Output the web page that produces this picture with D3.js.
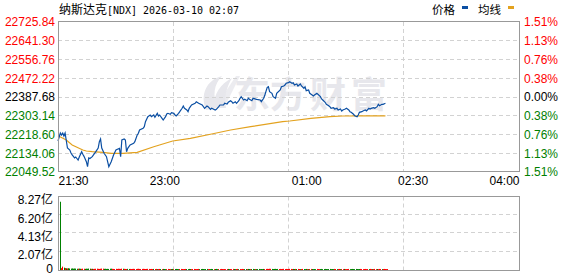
<!DOCTYPE html>
<html><head><meta charset="utf-8">
<script src="https://cdn.jsdelivr.net/npm/d3@7"></script>
<style>body{margin:0;background:#fff}svg{display:block}</style>
</head><body><svg id="c" width="578" height="276"></svg>
<script>
// ---------- data ----------
const titleName = "纳斯达克";
const titleCode = "[NDX] 2026-03-10 02:07";
const prevClose = 22387.68;
const priceTicks = [22049.52,22134.06,22218.60,22303.14,22387.68,22472.22,22556.76,22641.30,22725.84];
const pctLabels  = ["1.51%","1.13%","0.76%","0.38%","0.00%","0.38%","0.76%","1.13%","1.51%"];
const timeTicks  = [0,90,210,300,390];           // minutes after 21:30
const timeLabels = ["21:30","23:00","01:00","02:30","04:00"];
const volTicks   = [0,2.07,4.13,6.20,8.27];
const volLabels  = ["0","2.07亿","4.13亿","6.20亿","8.27亿"];
const legendNames = ["价格","均线"];

// [minute, price]
const pricePoints = [
[0,22189.3],[2,22225.4],[3,22216.4],[4,22225.4],[5,22211.8],[6,22225.4],[8,22157.7],[10,22148.7],
[11,22135.2],[12,22126.2],[14,22112.7],[15,22117.2],[17,22103.6],[18,22117.2],[20,22141.1],[21,22129.3],
[22,22120.0],[24,22096.0],[25,22073.4],[26,22112.7],[27,22110.0],[29,22118.5],[32,22141.1],[34,22157.7],
[35,22186.1],[36,22198.3],[37,22157.7],[39,22133.8],[41,22118.5],[43,22073.4],[45,22096.0],[47,22126.2],
[49,22148.7],[52,22156.4],[53,22118.5],[54,22193.8],[56,22198.3],[57,22193.8],[58,22141.1],[59,22156.4],
[61,22171.3],[64,22178.9],[65,22186.1],[67,22216.4],[68,22224.0],[69,22238.9],[72,22246.6],[73,22253.8],
[74,22276.3],[76,22298.9],[78,22306.5],[79,22298.9],[81,22306.5],[82,22296.2],[84,22314.2],[85,22302.0],
[86,22306.5],[88,22291.7],[89,22284.0],[91,22298.9],[92,22311.0],[93,22314.2],[95,22309.7],[96,22316.9],
[98,22314.2],[99,22306.5],[100,22302.0],[102,22314.2],[103,22321.4],[105,22336.7],[106,22347.1],[107,22336.7],
[109,22329.1],[110,22321.4],[111,22336.7],[113,22351.6],[116,22359.3],[117,22366.5],[119,22359.3],[122,22351.6],
[124,22336.7],[126,22347.1],[127,22344.0],[129,22332.2],[130,22336.7],[133,22329.1],[134,22332.2],[136,22344.0],
[137,22351.6],[140,22351.6],[141,22359.3],[143,22356.1],[144,22363.8],[146,22371.0],[147,22366.5],[148,22359.3],
[150,22366.5],[151,22359.3],[153,22371.0],[154,22381.8],[155,22389.1],[157,22374.2],[158,22377.3],[160,22371.0],
[161,22381.8],[162,22377.3],[164,22371.0],[165,22381.8],[168,22377.3],[171,22374.2],[172,22366.5],[174,22381.8],
[175,22396.7],[177,22431.4],[178,22434.1],[179,22411.6],[181,22404.4],[182,22389.1],[184,22381.8],[185,22404.4],
[188,22419.3],[189,22434.1],[191,22437.3],[192,22441.8],[193,22449.5],[195,22452.2],[196,22456.7],[198,22449.5],
[199,22452.2],[200,22441.8],[202,22446.3],[203,22437.3],[205,22446.3],[206,22437.3],[208,22426.9],[209,22434.1],
[210,22416.1],[212,22419.3],[213,22404.4],[215,22396.7],[216,22392.2],[217,22396.7],[219,22404.4],[222,22389.1],
[223,22378.7],[224,22374.2],[226,22363.8],[227,22354.8],[229,22348.5],[230,22344.0],[231,22336.7],[233,22339.5],
[234,22333.6],[236,22336.7],[237,22329.1],[239,22333.6],[240,22324.6],[241,22329.1],[243,22333.6],[244,22336.7],
[246,22329.1],[247,22321.4],[248,22318.7],[250,22309.7],[251,22303.4],[253,22298.9],[254,22306.5],[255,22318.7],
[257,22321.4],[258,22324.6],[260,22329.1],[261,22324.6],[263,22336.7],[264,22333.6],[265,22336.7],[267,22339.5],
[268,22336.7],[270,22344.0],[271,22354.8],[272,22348.5],[274,22354.8],[275,22354.8],[277,22359.3]
];

// [minute, average price]
const avgPoints = [
[0,22213.2],[7,22193.8],[12,22171.3],[21,22148.7],[24,22144.2],[29,22141.1],[38,22138.4],[45,22133.8],
[55,22133.8],[67,22138.4],[81,22163.6],[97,22189.3],[112,22201.5],[130,22220.9],[146,22238.9],[163,22253.8],
[190,22276.3],[196,22279.5],[214,22291.7],[230,22298.9],[241,22302.0],[260,22302.5],[277,22302.9]
];

// volume per minute (亿)
const volumes = [
7.68,0.21,0.38,0.26,0.22,0.19,0.18,0.2,0.17,0.16,0.18,0.15,0.17,0.16,0.14,0.15,0.16,0.14,0.13,0.15,
0.14,0.13,0.15,0.14,0.16,0.15,0.13,0.14,0.12,0.13,0.14,0.15,0.13,0.12,0.14,0.16,0.15,0.13,0.14,0.12,
0.13,0.12,0.14,0.15,0.13,0.12,0.11,0.13,0.12,0.14,0.13,0.12,0.15,0.14,0.13,0.12,0.11,0.13,0.12,0.12,
0.11,0.12,0.13,0.12,0.11,0.13,0.14,0.12,0.11,0.12,0.13,0.12,0.11,0.12,0.13,0.12,0.11,0.12,0.11,0.12,
0.11,0.12,0.1,0.11,0.12,0.11,0.1,0.12,0.11,0.1,0.11,0.12,0.11,0.1,0.11,0.12,0.1,0.11,0.12,0.11,
0.1,0.11,0.12,0.11,0.1,0.11,0.12,0.11,0.1,0.12,0.11,0.1,0.11,0.12,0.11,0.1,0.11,0.12,0.1,0.11,
0.12,0.11,0.1,0.11,0.12,0.1,0.11,0.1,0.12,0.11,0.1,0.11,0.12,0.1,0.11,0.1,0.12,0.11,0.1,0.11,
0.1,0.11,0.12,0.1,0.11,0.1,0.12,0.11,0.1,0.11,0.12,0.1,0.11,0.1,0.12,0.11,0.1,0.11,0.1,0.12,
0.11,0.1,0.11,0.12,0.1,0.11,0.1,0.11,0.12,0.1,0.11,0.1,0.12,0.11,0.12,0.13,0.12,0.14,0.13,0.12,
0.11,0.12,0.13,0.11,0.12,0.11,0.12,0.11,0.12,0.13,0.11,0.12,0.11,0.12,0.13,0.12,0.11,0.12,0.11,0.12,
0.11,0.12,0.11,0.1,0.11,0.12,0.11,0.1,0.12,0.11,0.1,0.11,0.12,0.11,0.1,0.11,0.1,0.12,0.11,0.1,
0.11,0.12,0.1,0.11,0.12,0.11,0.1,0.11,0.12,0.1,0.11,0.1,0.12,0.11,0.1,0.11,0.12,0.1,0.11,0.1,
0.12,0.11,0.1,0.11,0.12,0.1,0.11,0.12,0.11,0.1,0.12,0.11,0.1,0.11,0.12,0.11,0.1,0.11,0.12,0.1,
0.11,0.1,0.12,0.11,0.1,0.11,0.12,0.1,0.11,0.1,0.12,0.11,0.1,0.11,0.12,0.11,0.1,0.11
];

// ---------- drawing ----------
const RED="#ff0000", GREEN="#008000", BLUE="#0b4fa3", ORANGE="#e3a21f";
const NUMFONT = "'Liberation Sans', Arial, 'Noto Sans CJK SC', sans-serif";
const CJKFONT = "'Noto Sans CJK SC', sans-serif";
const svg = d3.select("#c");
const M = {l:58, r:519, t:22, b:172};
const V = {l:58, r:519, t:196.5, b:270};
const x  = d3.scaleLinear().domain([0,390]).range([M.l, M.r]);
const y  = d3.scaleLinear().domain([priceTicks[0], priceTicks[priceTicks.length-1]]).range([M.b, M.t]);
const yv = d3.scaleLinear().domain([0, volTicks[volTicks.length-1]]).range([V.b, V.t]);
const px = v => Math.floor(v) + 0.5;
const gridX = [97.5,195,292.5];

// watermark
const wm = svg.append("g").attr("fill","#e7e7ec");
wm.append("path").attr("d","M206,110 C200,95 206,80 222,76 C214,84 212,96 218,108 Z");
wm.append("path").attr("d","M213,108 C214,94 220,84 232,78 C226,88 224,98 226,108 Z");
wm.append("path").attr("d","M220,100 L236,76 L240,76 L226,104 Z").attr("opacity",0.8);
["东","方","财","富"].forEach((c,i)=>{
  wm.append("text").attr("x",[234,270,310,351][i]).attr("y",108)
    .attr("font-family",CJKFONT).attr("font-weight","bold").attr("font-size",36).text(c);
});

// grid
function grid(box, ys){
  const g = svg.append("g").attr("stroke","#d2d2d2").attr("stroke-width",1).attr("stroke-dasharray","4,3").attr("fill","none");
  ys.forEach(v=> g.append("line").attr("x1",box.l).attr("x2",box.r).attr("y1",v).attr("y2",v));
  gridX.forEach(m=>{ const xx=px(x(m)); g.append("line").attr("x1",xx).attr("x2",xx).attr("y1",box.t).attr("y2",box.b); });
}
grid(M, priceTicks.slice(1,-1).map(v=>px(y(v))));
grid({l:V.l,r:V.r,t:196.5,b:270}, volTicks.slice(1,-1).map(v=>Math.round(yv(v))-0.5));

// volume bars
const pAt = d3.scaleLinear().domain(pricePoints.map(d=>d[0])).range(pricePoints.map(d=>d[1])).clamp(true);
svg.append("g").selectAll("rect").data(volumes).join("rect")
  .attr("x",(d,i)=>Math.round(x(i))+2).attr("width",1)
  .attr("y",d=>yv(d)).attr("height",d=>V.b-yv(d))
  .attr("fill",(d,i)=>{ const prev = i===0?prevClose:pAt(i-1); return pAt(i)>=prev?RED:GREEN; });

// lines
const line = d3.line().x(d=>x(d[0])).y(d=>y(d[1]));
svg.append("path").datum(avgPoints).attr("d",line).attr("fill","none").attr("stroke",ORANGE).attr("stroke-width",1.2);
svg.append("path").datum(pricePoints).attr("d",line).attr("fill","none").attr("stroke",BLUE).attr("stroke-width",1.2);

// frames
svg.append("rect").attr("x",58.5).attr("y",21.5).attr("width",461).attr("height",150).attr("fill","none").attr("stroke","#999");
svg.append("rect").attr("x",58.5).attr("y",196.5).attr("width",461).attr("height",74).attr("fill","none").attr("stroke","#999");

// axes
const colorFor = v => Math.abs(v-prevClose)<0.01 ? "#000" : (v>prevClose?RED:GREEN);
const aL = svg.append("g").attr("transform",`translate(${M.l},0)`)
  .call(d3.axisLeft(y).tickValues(priceTicks).tickFormat(d3.format(".2f")).tickSize(0).tickPadding(3));
const aR = svg.append("g").attr("transform",`translate(${M.r},0)`)
  .call(d3.axisRight(y).tickValues(priceTicks).tickFormat((d,i)=>pctLabels[pctLabels.length-1-i]).tickSize(0).tickPadding(5));
[aL,aR].forEach(a=>{
  a.select(".domain").remove();
  a.selectAll("text").attr("font-family",NUMFONT).attr("font-size",12).attr("fill",d=>colorFor(d));
});
const aB = svg.append("g").attr("transform",`translate(0,${M.b})`)
  .call(d3.axisBottom(x).tickValues(timeTicks).tickFormat((d,i)=>timeLabels[i]).tickSize(0).tickPadding(4.5));
aB.select(".domain").remove();
aB.selectAll("text").attr("font-family",NUMFONT).attr("font-size",12).attr("fill","#000")
  .attr("text-anchor",(d,i)=> i===0?"start":(i===timeTicks.length-1?"end":"middle"));
const aV = svg.append("g").attr("transform",`translate(${V.l},0)`)
  .call(d3.axisLeft(yv).tickValues(volTicks).tickFormat((d,i)=>volLabels[i]).tickSize(0).tickPadding(5));
aV.select(".domain").remove();
aV.selectAll("text").attr("font-family",NUMFONT).attr("font-size",12).attr("fill","#000")
  .attr("dy",(d,i)=> i===0?"0.2em":"0.6em");

// title
svg.append("text").attr("x",59).attr("y",13.5).attr("font-family",CJKFONT).attr("font-size",12).attr("fill","#000").text(titleName);
svg.append("text").attr("x",107).attr("y",13.5).attr("font-family","'DejaVu Sans Mono', monospace").attr("font-size",10)
  .attr("textLength",132).attr("lengthAdjust","spacing").attr("fill","#000").text(titleCode);

// legend
const lg = svg.append("g");
[[432,462,BLUE],[478,508,ORANGE]].forEach((p,i)=>{
  lg.append("text").attr("x",p[0]).attr("y",14).attr("font-family",CJKFONT).attr("font-size",11.5).attr("fill","#000").text(legendNames[i]);
  lg.append("rect").attr("x",p[1]).attr("y",6).attr("width",6).attr("height",3).attr("fill",p[2]);
});
</script>
</body></html>
